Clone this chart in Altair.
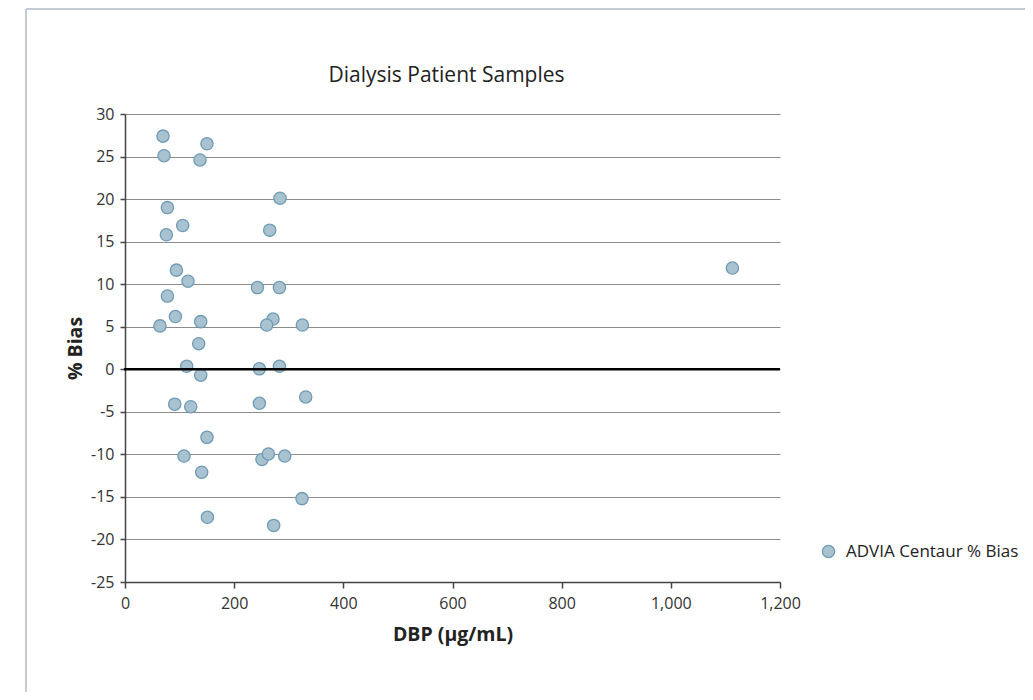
import altair as alt
import pandas as pd

dbp = [69.6, 71.5, 150.2, 137.4, 77.7, 284.0, 105.7, 75.8, 265.1, 94.2,
       115.4, 242.6, 282.9, 77.7, 92.3, 138.7, 64.1, 271.2, 259.6, 325.0,
       135.0, 113.0, 138.7, 246.2, 282.9, 91.1, 120.4, 246.2, 331.1, 150.2,
       108.1, 251.0, 262.7, 292.6, 140.5, 324.3, 151.0, 272.4, 1112.8]
bias = [27.4, 25.1, 26.5, 24.6, 19.0, 20.1, 16.9, 15.8, 16.35, 11.65,
        10.35, 9.6, 9.6, 8.6, 6.2, 5.6, 5.1, 5.9, 5.2, 5.2,
        3.0, 0.35, -0.7, 0.05, 0.35, -4.1, -4.4, -4.0, -3.25, -8.0,
        -10.2, -10.6, -9.95, -10.2, -12.1, -15.2, -17.4, -18.35, 11.9]
series_name = "ADVIA Centaur % Bias"
chart_title = "Dialysis Patient Samples"

df = pd.DataFrame({"dbp": dbp, "bias": bias, "series": [series_name] * len(dbp)})

W, H = 655, 468
PAD_L, PAD_T, PAD_R, PAD_B = 117, 106, 245, 110
FONT = "Open Sans"
FILL = "#a9c2d0"
STROKE = "#6f9bb5"

base = alt.Chart(df)

points = base.mark_circle(size=150, opacity=1, stroke=STROKE, strokeWidth=1.3).encode(
    x=alt.X("dbp:Q",
            scale=alt.Scale(domain=[0, 1200], nice=False, zero=False),
            axis=alt.Axis(title="DBP (µg/mL)", values=[0, 200, 400, 600, 800, 1000, 1200],
                          labelExpr="replace(format(datum.value, ','), '\u2212', '-')",
                          grid=False, titlePadding=14, labelPadding=7, labelFlush=False)),
    y=alt.Y("bias:Q",
            scale=alt.Scale(domain=[-25, 30], nice=False, zero=False),
            axis=alt.Axis(title="% Bias", values=list(range(-25, 31, 5)), grid=True,
                          labelExpr="replace(format(datum.value, 'd'), '\u2212', '-')",
                          titlePadding=5, labelPadding=6, tickSize=5, labelFlush=False)),
    fill=alt.Fill("series:N", scale=alt.Scale(range=[FILL]),
                  legend=alt.Legend(title=None, orient="none", legendX=695, legendY=429,
                                    symbolType="circle", symbolSize=150,
                                    symbolStrokeColor=STROKE, symbolStrokeWidth=1.3,
                                    labelFontSize=17, labelFont=FONT, labelColor="#222",
                                    labelOffset=9, labelLimit=400)),
)

zero_rule = alt.Chart(pd.DataFrame({"z": [0]})).mark_rule(color="#000", strokeWidth=2.6).encode(
    y=alt.Y("z:Q"),
    x=alt.value(-1), x2=alt.value(W)
)

title_text = alt.Chart(pd.DataFrame({"t": [chart_title]})).mark_text(
    font=FONT, fontSize=21, color="#222", align="center", baseline="alphabetic"
).encode(text="t:N", x=alt.value(W / 2 - 6), y=alt.value(-32))

frame_top = alt.Chart(pd.DataFrame({"z": [0]})).mark_rule(color="#c3ccd4", strokeWidth=2).encode(
    x=alt.value(-99), x2=alt.value(W + PAD_R), y=alt.value(-105)
)
frame_left = alt.Chart(pd.DataFrame({"z": [0]})).mark_rule(color="#c3ccd4", strokeWidth=2).encode(
    x=alt.value(-99), y=alt.value(-105), y2=alt.value(H + PAD_B)
)

chart = alt.layer(frame_top, frame_left, title_text, points, zero_rule).properties(
    width=W, height=H,
    autosize="none",
    padding={"left": PAD_L, "top": PAD_T, "right": PAD_R, "bottom": PAD_B},
).configure_view(stroke=None).configure_axis(
    labelFont=FONT, labelFontSize=16, labelColor="#333",
    titleFont=FONT, titleFontSize=19.5, titleFontWeight="bold", titleColor="#222",
    domainColor="#444", domainWidth=1.5, tickColor="#444", tickSize=6, tickWidth=1.5,
    gridColor="#8c8c8c", gridWidth=1.2,
)

chart.save("out.html", embed_options={"renderer": "svg", "actions": False})
